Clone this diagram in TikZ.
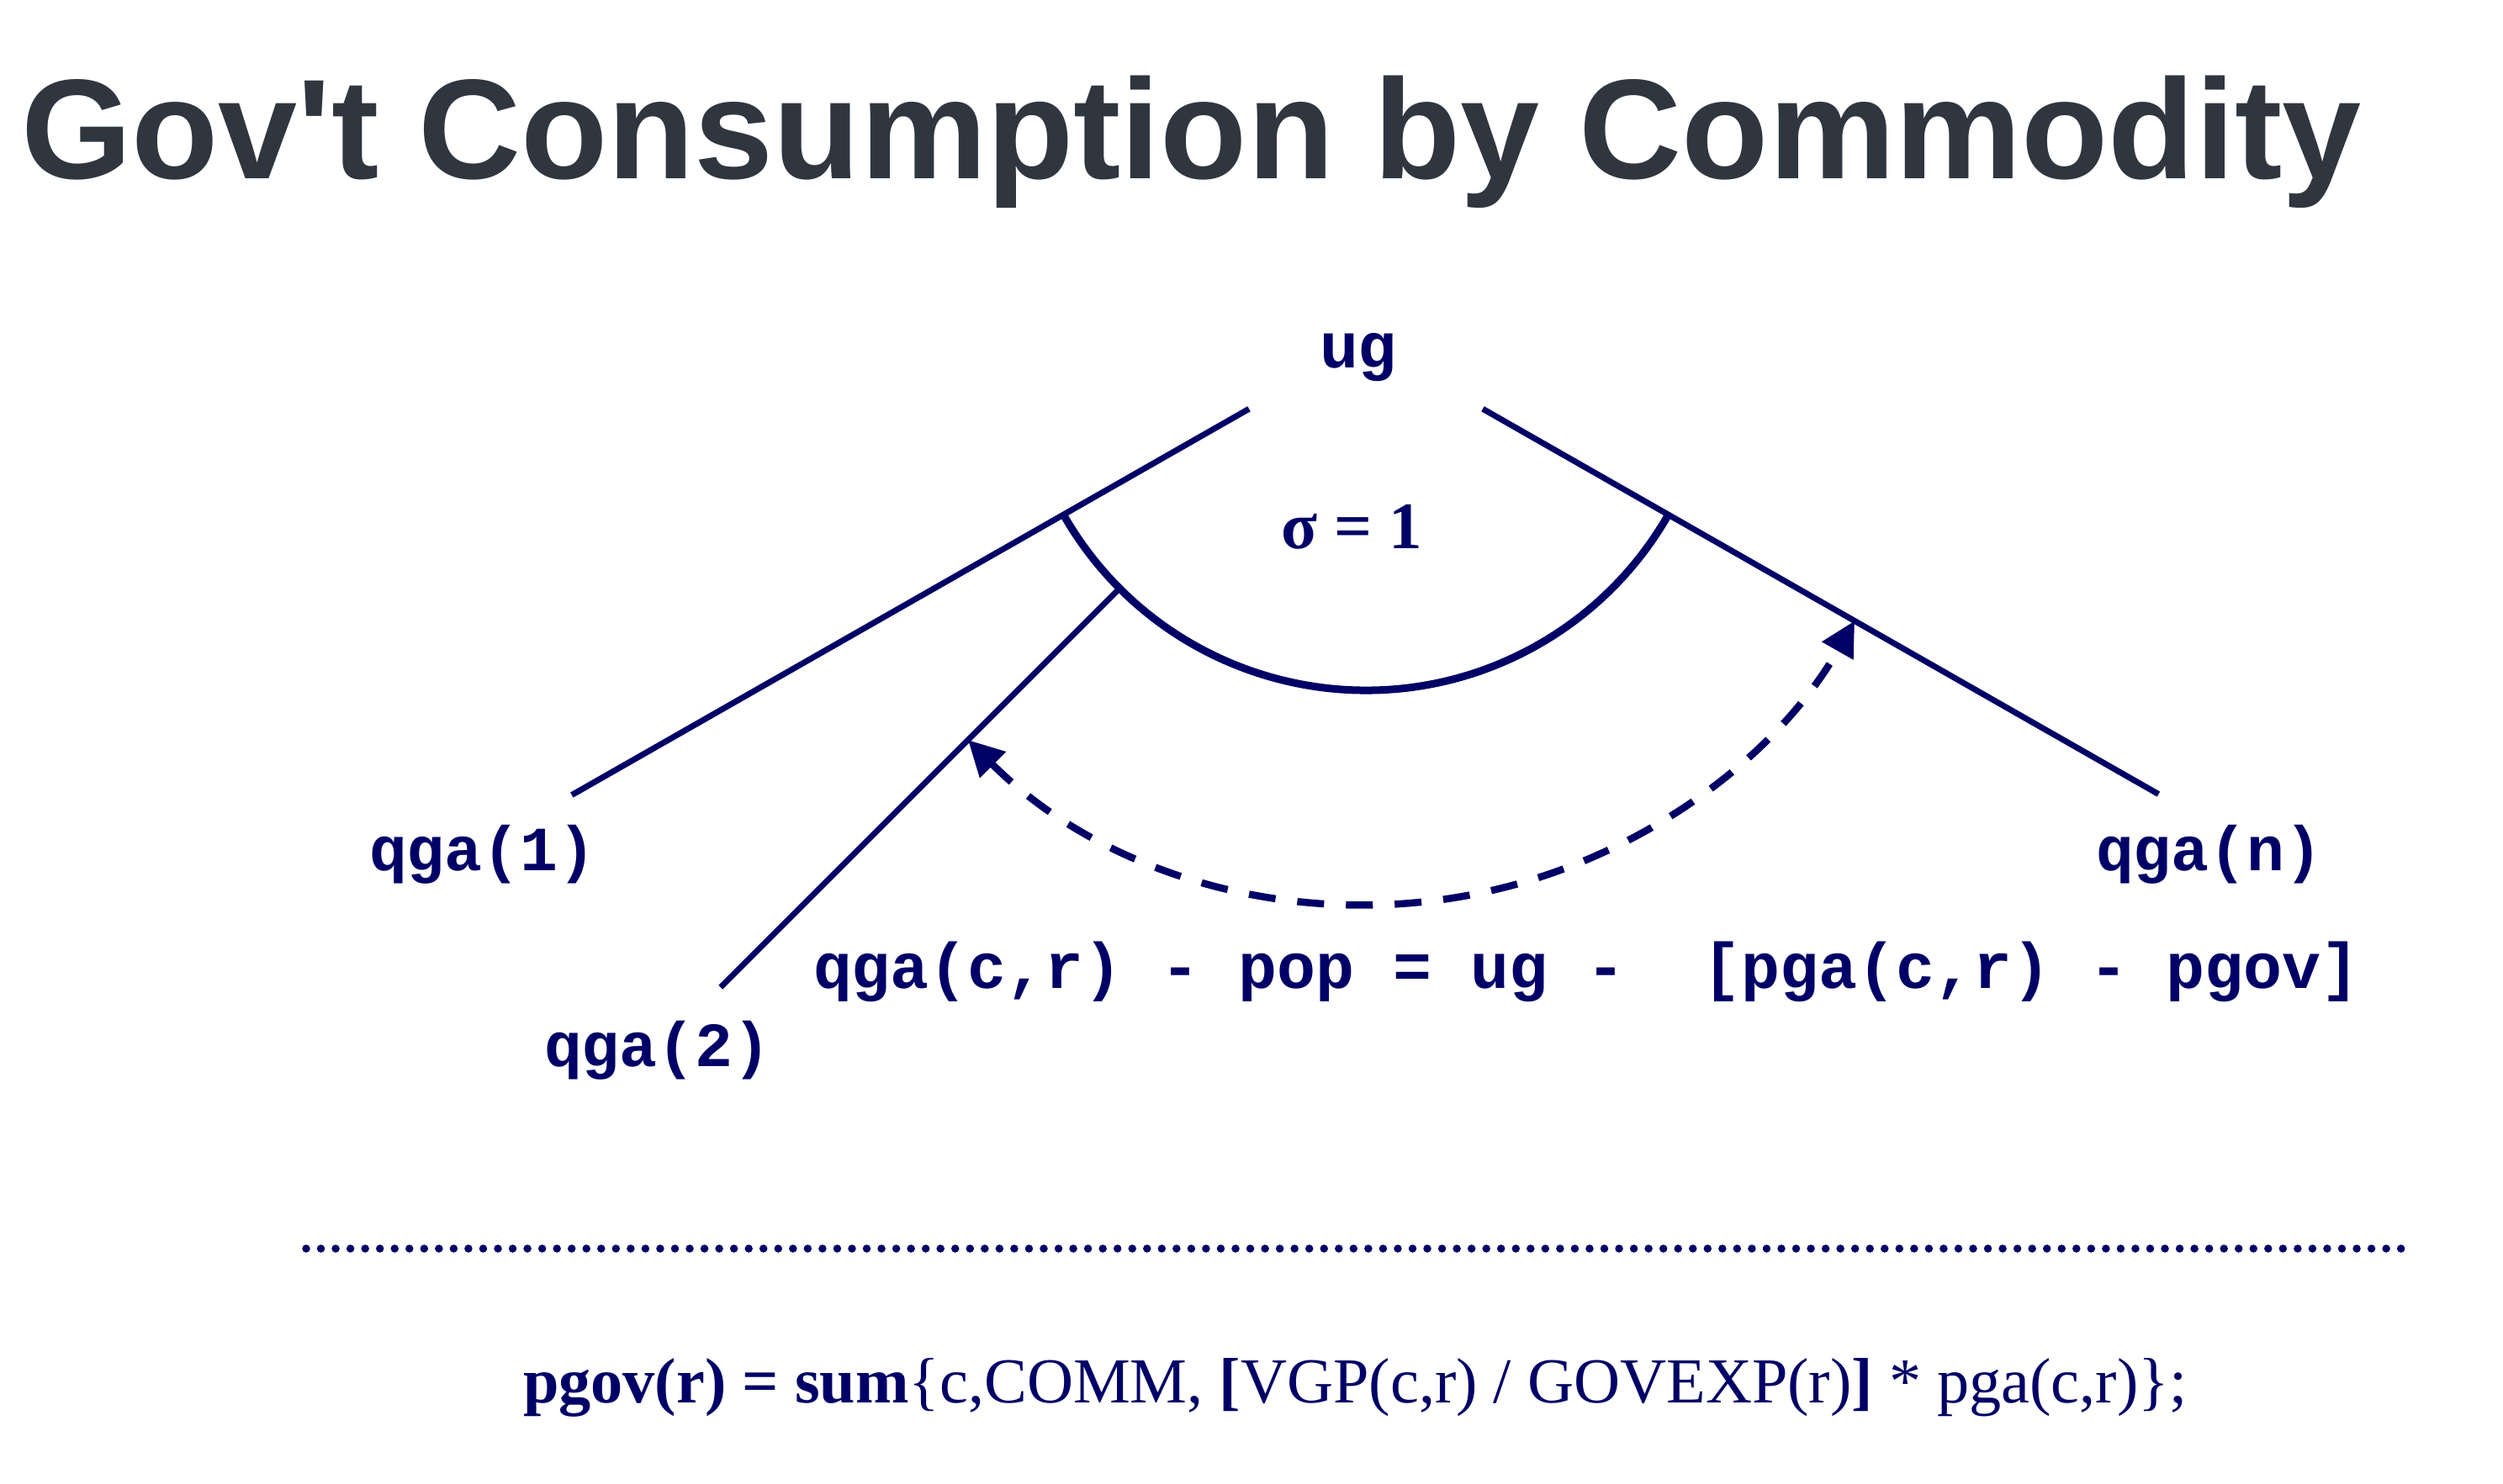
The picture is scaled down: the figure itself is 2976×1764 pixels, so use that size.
\documentclass[tikz,border=0pt]{standalone}
\usepackage{fontspec}
\setmainfont{Liberation Serif}
\newfontfamily\headsans{Liberation Sans}[Ligatures=TeXOff]
% bold fixed-pitch face for the variable names
\newfontfamily\courb{Liberation Mono}[Ligatures=TeXOff, UprightFont=*-Bold]
\usetikzlibrary{arrows.meta}
\definecolor{inkblue}{RGB}{0,0,102}
\definecolor{headgray}{RGB}{47,54,64}

\begin{document}
\begin{tikzpicture}[x=0.1mm, y=-0.1mm,
  every node/.style={inner sep=0pt, outer sep=0pt, text=inkblue},
  branch/.style={draw=inkblue, line width=0.7mm},
  nestarc/.style={draw=inkblue, line width=0.9mm},
  swaparc/.style={draw=inkblue, line width=0.85mm, dash pattern=on 3.2mm off 2.6mm,
    {Triangle[length=4.2mm,width=4.2mm]}-{Triangle[length=4.1mm,width=4.1mm]}},
  dotrule/.style={draw=inkblue, line width=0.95mm, line cap=round, dash pattern=on 0pt off 1.754mm},
  varname/.style={anchor=base west, font=\courb\fontsize{21.3}{25}\selectfont},
  eqn/.style={anchor=base west, font=\courb\fontsize{21.8}{26}\selectfont},
]
\path[use as bounding box] (0,0) rectangle (2976,1764);

% heading
\node[anchor=base west, text=headgray, font=\headsans\bfseries\fontsize{48.1}{58}\selectfont]
  (title) at (25,212) {Gov't Consumption by Commodity};

% nest geometry: all branches radiate from the apex
\coordinate (apex) at (1624,407);
\path (apex) ++(150.3:160)  coordinate (b1top);
\path (apex) ++(150.3:1087) coordinate (b1end);
\path (apex) ++(29.7:160)   coordinate (bntop);
\path (apex) ++(29.7:1085)  coordinate (bnend);
\path (apex) ++(135:414)    coordinate (b2top);
\path (apex) ++(135:1085)   coordinate (b2end);
\path (apex) ++(150.3:414)  coordinate (arcL);
\path (apex) ++(135:669)    coordinate (swapL);

\draw[branch] (b1top) -- (b1end);
\draw[branch] (bntop) -- (bnend);
\draw[branch] (b2top) -- (b2end);
\draw[nestarc] (arcL) arc[start angle=150.3, end angle=29.7, radius=414];
\draw[swaparc] (swapL) arc[start angle=135, end angle=29.7, radius=669];

% labels
\node[eqn] (top) at (1569,437) {ug};
\node[anchor=base, font=\bfseries\fontsize{22.5}{27}\selectfont] (sigma) at (1607,652) {σ = 1};
\node[varname] (q1) at (439,1035) {qga(1)};
\node[varname] (qn) at (2492,1035) {qga(n)};
\node[varname] (q2) at (647,1268) {qga(2)};
\node[eqn] (demand) at (967,1175) {qga(c,r)~-~pop~=~ug~-~~[pga(c,r)~-~pgov]};

% separator
\coordinate (ruleL) at (364,1485);
\coordinate (ruleR) at (2856,1485);
\draw[dotrule] (ruleL) -- (ruleR);

% price index
\node[anchor=base west, font=\fontsize{21.7}{26}\selectfont] (pindex) at (622,1668)
  {\textbf{pgov(r) = sum}\{c,COMM, \textbf{[}VGP(c,r) / GOVEXP(r)\textbf{]} * pga(c,r)\};};
\end{tikzpicture}
\end{document}
